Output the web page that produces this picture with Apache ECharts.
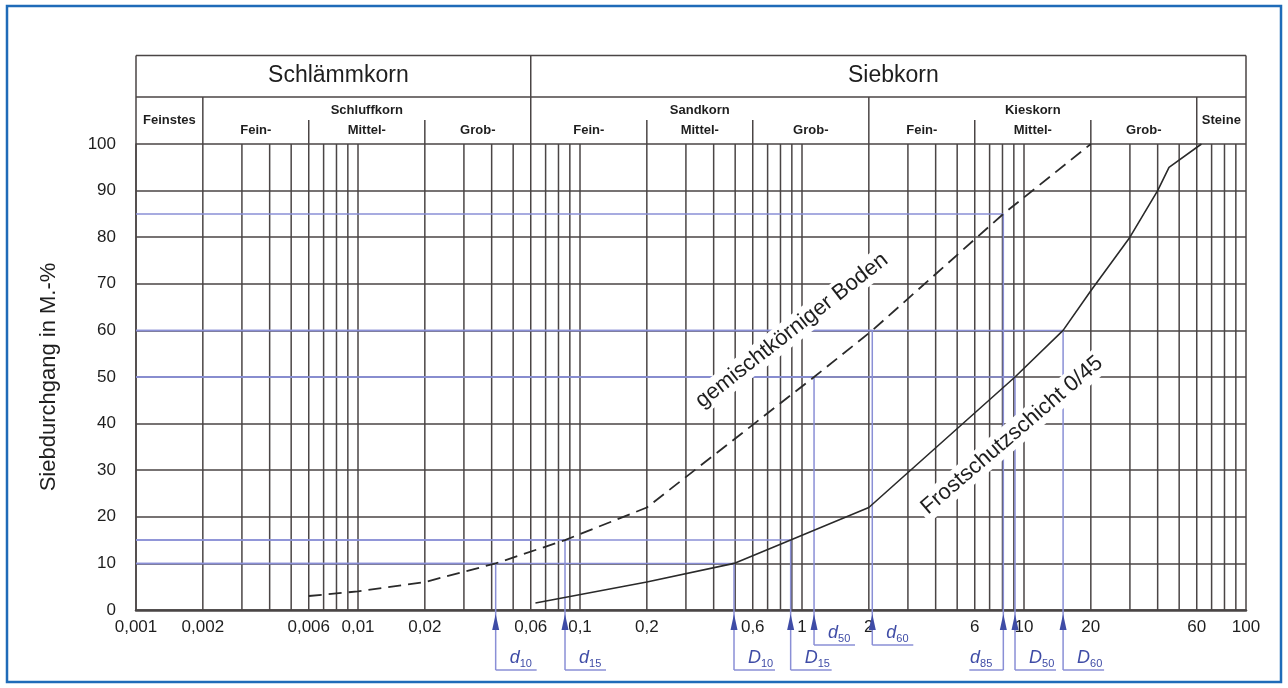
<!DOCTYPE html>
<html>
<head>
<meta charset="utf-8">
<script src="https://cdn.jsdelivr.net/npm/echarts@6/dist/echarts.min.js"></script>
<style>
  html, body { margin: 0; padding: 0; background: #fff; }
  #chart { width: 1288px; height: 688px; }
</style>
</head>
<body>
<div id="chart"></div>
<script>
// Grain size axis (mm) – tick positions and their German labels
const sizeTicks = [0.001, 0.002, 0.006, 0.01, 0.02, 0.06, 0.1, 0.2, 0.6, 1, 2, 6, 10, 20, 60, 100];
const sizeTickLabels = ['0,001', '0,002', '0,006', '0,01', '0,02', '0,06', '0,1', '0,2', '0,6', '1', '2', '6', '10', '20', '60', '100'];

// Vertical grid lines of the sieve chart (1..9 per decade)
const sieveGrid = [
  0.001, 0.002, 0.003, 0.004, 0.005, 0.006, 0.007, 0.008, 0.009,
  0.01, 0.02, 0.03, 0.04, 0.05, 0.06, 0.07, 0.08, 0.09,
  0.1, 0.2, 0.3, 0.4, 0.5, 0.6, 0.7, 0.8, 0.9,
  1, 2, 3, 4, 5, 6, 7, 8, 9,
  10, 20, 30, 40, 50, 60, 70, 80, 90, 100
];

// Soil fraction bands shown in the header
const mainFractions = ['Schlämmkorn', 'Siebkorn'];
const mainBounds = [0.001, 0.06, 100];
const fractions = ['Feinstes', 'Schluffkorn', 'Sandkorn', 'Kieskorn', 'Steine'];
const fractionBounds = [0.001, 0.002, 0.06, 2, 60, 100];
const subFractions = ['Fein-', 'Mittel-', 'Grob-'];
const siltBounds = [0.002, 0.006, 0.02, 0.06];
const sandBounds = [0.06, 0.2, 0.6, 2];
const gravelBounds = [2, 6, 20, 60];

// Grading curve: mixed-grained soil (dashed)
const mixedSoilSize = [0.006, 0.01, 0.02, 0.0417, 0.0856, 0.2, 1.133, 2.073, 8.07, 20];
const mixedSoilPass = [3, 4, 6, 10, 15, 22, 50, 60, 85, 100];

// Grading curve: frost protection layer 0/45 (solid)
const frostSize = [0.063, 0.2, 0.494, 0.889, 2, 9.11, 15, 20, 30, 40, 45, 63];
const frostPass = [1.5, 6, 10, 15, 22, 50, 60, 68.5, 80, 90, 95, 100];

// Characteristic grain diameters
const charSymbol = ['d', 'd', 'd', 'd', 'd', 'D', 'D', 'D', 'D'];
const charIndex = ['10', '15', '50', '60', '85', '10', '15', '50', '60'];
const charSize = [0.0417, 0.0856, 1.133, 2.073, 8.07, 0.494, 0.889, 9.11, 15.0];
const charPass = [10, 15, 50, 60, 85, 10, 15, 50, 60];

const FONT = "'Liberation Sans', Arial, Helvetica, sans-serif";
const GRID = '#4a4545';
const BLUE_LINE = '#8a8fd6';
const BLUE_TEXT = '#3f4ca6';
const INK = '#1e1e1e';

const measureCtx = document.createElement('canvas').getContext('2d');
function textWidth(text, font) {
  measureCtx.font = font;
  return measureCtx.measureText(text).width;
}

function tickLabel(v) {
  const lv = Math.log10(v);
  for (let i = 0; i < sizeTicks.length; i++) {
    if (Math.abs(Math.log10(sizeTicks[i]) - lv) < 1e-6) return sizeTickLabels[i];
  }
  return '';
}

// Labels drawn with a short drop and on the left side of their leader line
const shortDrop = new Set(['d50', 'd60']);
const leftSide = new Set(['d85']);

const chart = echarts.init(document.getElementById('chart'), null, { renderer: 'canvas' });

const option = {
  animation: false,
  backgroundColor: '#fff',
  textStyle: { fontFamily: FONT },
  grid: { left: 136, top: 144, width: 1110, height: 466, containLabel: false },
  xAxis: {
    type: 'log',
    logBase: 10,
    min: 0.001,
    max: 100,
    axisLine: { show: true, onZero: false, lineStyle: { color: GRID, width: 2.5 } },
    axisTick: { show: false },
    splitLine: { show: false },
    axisLabel: {
      customValues: sizeTicks,
      formatter: tickLabel,
      fontSize: 17,
      color: INK,
      margin: 9,
      fontFamily: FONT
    }
  },
  yAxis: {
    type: 'value',
    min: 0,
    max: 100,
    interval: 10,
    name: 'Siebdurchgang in M.-%',
    nameLocation: 'middle',
    nameGap: 76,
    nameTextStyle: { fontSize: 22, color: INK, fontFamily: FONT },
    axisLine: { show: true, lineStyle: { color: GRID, width: 1.5 } },
    axisTick: { show: false },
    splitLine: { show: true, lineStyle: { color: GRID, width: 1.5 } },
    axisLabel: { fontSize: 17, color: INK, margin: 20, fontFamily: FONT }
  },
  graphic: [{
    type: 'rect',
    shape: { x: 7, y: 6, width: 1274, height: 676 },
    style: { fill: 'none', stroke: '#1f6bb8', lineWidth: 2.5 },
    silent: true
  }],
  series: [
    // vertical sieve grid lines
    {
      type: 'custom',
      name: 'sieve grid',
      z: 1,
      silent: true,
      clip: false,
      data: sieveGrid.map(v => [v, 0]),
      renderItem(params, api) {
        const cs = params.coordSys;
        const x = api.coord([api.value(0), 0])[0];
        return {
          type: 'line',
          shape: { x1: x, y1: cs.y, x2: x, y2: cs.y + cs.height },
          style: { stroke: GRID, lineWidth: 1.5 }
        };
      }
    },
    // header with soil fraction names
    {
      type: 'custom',
      name: 'fraction header',
      z: 2,
      silent: true,
      clip: false,
      data: [[1, 100]],
      renderItem(params, api) {
        const top = params.coordSys.y;
        const X = v => api.coord([v, 100])[0];
        const kids = [];
        const line = (x1, y1, x2, y2) => kids.push({
          type: 'line', shape: { x1, y1, x2, y2 }, style: { stroke: GRID, lineWidth: 1.5 }
        });
        const text = (t, x, y, size, weight) => kids.push({
          type: 'text', x, y,
          style: {
            text: t, fill: INK, fontSize: size, fontWeight: weight, fontFamily: FONT,
            align: 'center', verticalAlign: 'middle'
          }
        });
        const yTop = top - 88.5, yMid = top - 47, ySub = top - 24;
        const x0 = X(mainBounds[0]), x1 = X(mainBounds[mainBounds.length - 1]);
        line(x0, yTop, x1, yTop);
        line(x0, yMid, x1, yMid);
        line(x0, yTop, x0, top);
        line(x1, yTop, x1, top);
        // main split
        for (let i = 0; i < mainFractions.length; i++) {
          const a = X(mainBounds[i]), b = X(mainBounds[i + 1]);
          if (i > 0) line(a, yTop, a, yMid);
          text(mainFractions[i], (a + b) / 2 + 5, top - 68, 23, 'normal');
        }
        // fraction split
        for (let i = 0; i < fractions.length; i++) {
          const a = X(fractionBounds[i]), b = X(fractionBounds[i + 1]);
          if (i > 0) line(a, yMid, a, top);
          const hasSub = (fractions[i] === 'Schluffkorn' || fractions[i] === 'Sandkorn' || fractions[i] === 'Kieskorn');
          text(fractions[i], (a + b) / 2, hasSub ? top - 34 : top - 23.5, 13, 'bold');
        }
        // fine / medium / coarse sub-bands
        [siltBounds, sandBounds, gravelBounds].forEach(bounds => {
          for (let i = 0; i < subFractions.length; i++) {
            const a = X(bounds[i]), b = X(bounds[i + 1]);
            if (i > 0) line(a, ySub, a, top);
            text(subFractions[i], (a + b) / 2, top - 13.5, 13, 'bold');
          }
        });
        return { type: 'group', children: kids };
      }
    },
    // characteristic diameters with leader lines and arrows
    {
      type: 'custom',
      name: 'characteristic diameters',
      z: 3,
      silent: true,
      clip: false,
      data: charSize.map((s, i) => [s, charPass[i]]),
      renderItem(params, api) {
        const i = params.dataIndex;
        const cs = params.coordSys;
        const key = charSymbol[i] + charIndex[i];
        const pt = api.coord([api.value(0), api.value(1)]);
        const base = api.coord([api.value(0), 0])[1];
        const x = pt[0];
        const yEnd = base + (shortDrop.has(key) ? 35 : 60);
        const dir = leftSide.has(key) ? -1 : 1;
        const mainFont = 'italic 18px ' + FONT;
        const subFont = '11px ' + FONT;
        const wMain = textWidth(charSymbol[i], mainFont);
        const wSub = textWidth(charIndex[i], subFont);
        const textLeft = dir > 0 ? x + 14 : x - 11 - wMain - wSub;
        const stroke = { stroke: BLUE_LINE, lineWidth: 1.5 };
        return {
          type: 'group',
          children: [
            { type: 'line', shape: { x1: cs.x, y1: pt[1], x2: x, y2: pt[1] }, style: stroke },
            { type: 'line', shape: { x1: x, y1: pt[1], x2: x, y2: yEnd }, style: stroke },
            { type: 'line', shape: { x1: x, y1: yEnd, x2: x + dir * (dir > 0 ? 41 : 34), y2: yEnd }, style: stroke },
            {
              type: 'polygon',
              shape: { points: [[x, base + 4], [x - 3.5, base + 20], [x + 3.5, base + 20]] },
              style: { fill: BLUE_TEXT }
            },
            {
              type: 'text', x: textLeft, y: yEnd - 12,
              style: { text: charSymbol[i], font: mainFont, fill: BLUE_TEXT, align: 'left', verticalAlign: 'middle' }
            },
            {
              type: 'text', x: textLeft + wMain, y: yEnd - 6,
              style: { text: charIndex[i], font: subFont, fill: BLUE_TEXT, align: 'left', verticalAlign: 'middle' }
            }
          ]
        };
      }
    },
    // mixed-grained soil
    {
      type: 'line',
      name: 'gemischtkörniger Boden',
      z: 10,
      silent: true,
      symbol: 'none',
      smooth: false,
      data: mixedSoilSize.map((s, i) => [s, mixedSoilPass[i]]),
      lineStyle: { color: '#2a2a2a', width: 1.8, type: [13, 7] },
      markPoint: {
        symbol: 'rect',
        symbolSize: 0,
        silent: true,
        data: [{
          coord: [0.9, 60],
          label: {
            show: true, position: 'inside', formatter: 'gemischtkörniger Boden',
            rotate: 38, fontSize: 22, color: INK, fontFamily: FONT,
            backgroundColor: '#fff', padding: [2, 4]
          }
        }]
      }
    },
    // frost protection layer 0/45
    {
      type: 'line',
      name: 'Frostschutzschicht 0/45',
      z: 10,
      silent: true,
      symbol: 'none',
      smooth: false,
      data: frostSize.map((s, i) => [s, frostPass[i]]),
      lineStyle: { color: '#2a2a2a', width: 1.6 },
      markPoint: {
        symbol: 'rect',
        symbolSize: 0,
        silent: true,
        data: [{
          coord: [8.83, 37.5],
          label: {
            show: true, position: 'inside', formatter: 'Frostschutzschicht 0/45',
            rotate: 40.5, fontSize: 22, color: INK, fontFamily: FONT,
            backgroundColor: '#fff', padding: [2, 4]
          }
        }]
      }
    }
  ]
};

chart.setOption(option);
</script>
</body>
</html>
